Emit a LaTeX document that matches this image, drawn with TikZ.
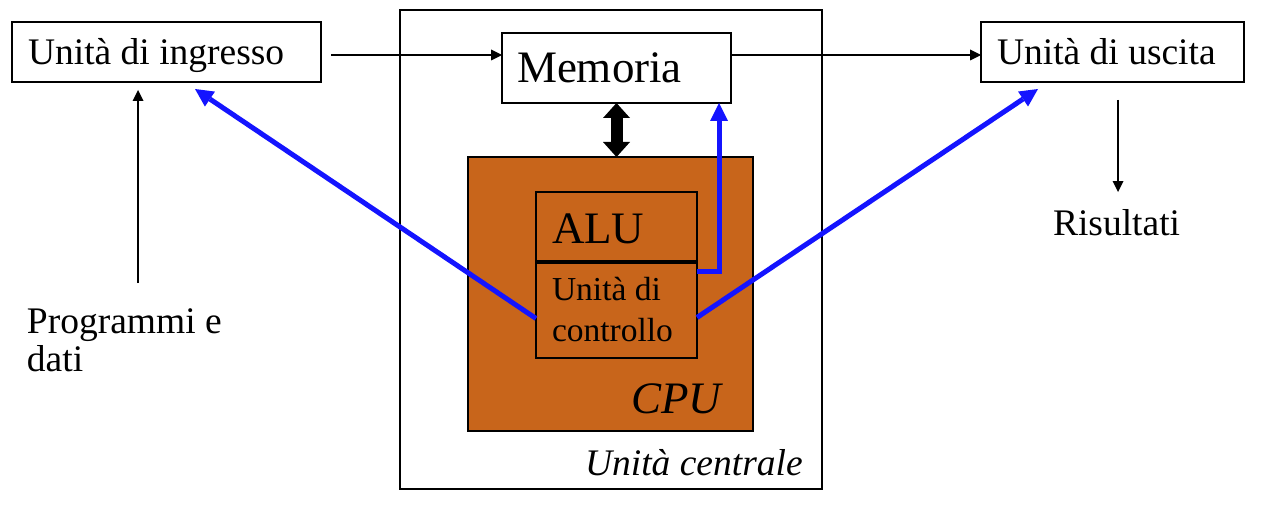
\documentclass[tikz,border=0pt]{standalone}
\usepackage{fontspec}
\setmainfont{Liberation Serif}
\usetikzlibrary{arrows.meta,calc}
\definecolor{cpuorange}{RGB}{200,101,27}
\definecolor{ctlblue}{RGB}{20,20,255}
\begin{document}
\begin{tikzpicture}[x=1pt,y=-1pt,
  box/.style={draw,line width=1.5pt,inner sep=0pt,outer sep=0pt},
  txt/.style={anchor=base west,inner sep=0pt,outer sep=0pt},
  thin arrow/.style={line width=1.4pt,-{Triangle[length=11pt,width=11pt,line width=0pt]}},
  blue arrow/.style={draw=ctlblue,line width=5pt,-{Triangle[length=18pt,width=18pt,line width=0pt]}},
  big/.style={font=\fontsize{45}{54}\selectfont},
  mid/.style={font=\fontsize{37.5}{45}\selectfont},
  small/.style={font=\fontsize{33.5}{40}\selectfont}]
\useasboundingbox (0,0) rectangle (1272,532);
% boxes
\node[box,minimum width=422pt,minimum height=479pt] (central) at (611,249.5) {};
\node[box,fill=cpuorange,minimum width=285pt,minimum height=274pt] (cpu) at (610.5,294) {};
\node[box,minimum width=161pt,minimum height=69pt] (alu) at (616.5,226.5) {};
\node[box,minimum width=161pt,minimum height=95pt] (ctl) at (616.5,310.5) {};
\node[box,minimum width=309pt,minimum height=60pt] (ingresso) at (166.5,52) {};
\node[box,minimum width=229pt,minimum height=70pt] (mem) at (616.5,68) {};
\node[box,minimum width=263pt,minimum height=60pt] (uscita) at (1112.5,52) {};
% texts
\node[txt,mid] (tin) at (28,65) {Unità di ingresso};
\node[txt,big] (tmem) at (517,83) {Memoria};
\node[txt,mid] (tout) at (997,65) {Unità di uscita};
\node[txt,big] (talu) at (552,243) {ALU};
\node[txt,small] (tctla) at (552,300) {Unità di};
\node[txt,small] (tctlb) at (552,341) {controllo};
\node[txt,big] (tcpu) at (631,413) {\itshape CPU};
\node[txt,mid] (tcen) at (585,475) {\itshape Unità centrale};
\node[txt,mid] (tris) at (1053,235) {Risultati};
\node[txt,mid] (tproga) at (27,333) {Programmi e};
\node[txt,mid] (tprogb) at (27,371) {dati};
% black arrows
\coordinate (a1) at ([xshift=10pt,yshift=-3pt]ingresso.east);
\draw[thin arrow] (a1) -- (a1 -| mem.west);
\draw[thin arrow] (a1 -| mem.east) -- (a1 -| uscita.west);
\coordinate (p0) at (138,283);
\coordinate (p1) at ([yshift=-8pt]ingresso.south);
\draw[thin arrow] (p0) -- (p0 |- p1);
\coordinate (r0) at ([xshift=5.5pt,yshift=-18pt]uscita.south);
\draw[thin arrow] (r0) -- ++(0,92);
\draw[line width=12pt,{Triangle[length=15pt,width=27pt,line width=0pt]}-{Triangle[length=15pt,width=27pt,line width=0pt]}] (mem.south) -- (mem.south |- cpu.north);
% blue arrows
\draw[blue arrow] ([yshift=-8pt]ctl.west) -- ([xshift=28.5pt,yshift=-7pt]ingresso.south);
\draw[blue arrow] ([yshift=-7pt]ctl.east) -- ([xshift=-74.5pt,yshift=-7pt]uscita.south);
\draw[blue arrow] ([yshift=-8pt]ctl.north east) -| ([xshift=-12pt]mem.south east);
\end{tikzpicture}
\end{document}
